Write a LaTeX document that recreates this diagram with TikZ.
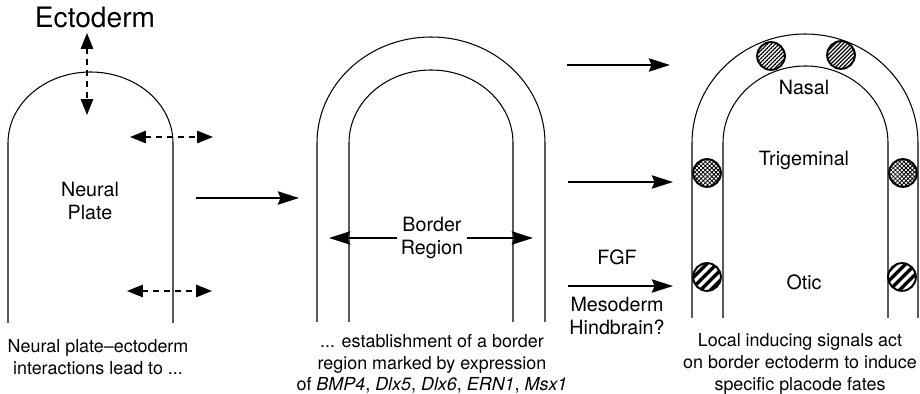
\documentclass[tikz,border=0pt]{standalone}
\usepackage{fontspec}
\setmainfont{TeX Gyre Heros}
\usetikzlibrary{arrows.meta,positioning,patterns.meta}

\tikzset{
  lbl/.style={align=center,font=\fontsize{11.2}{13}\selectfont},
  captxt/.style={align=center,font=\fontsize{10.2}{12.3}\selectfont},
  outline/.style={line width=0.6pt},
  bigarrow/.style={-{Stealth[length=12pt,width=7.5pt,inset=1.5pt]},line width=1.5pt},
  dasharrow/.style={{Triangle[length=9pt,width=7pt]}-{Triangle[length=9pt,width=7pt]},line width=0.9pt,dash pattern=on 3.4pt off 2.8pt},
  placode/.style={circle,draw,line width=1.1pt,minimum size=15.8pt,inner sep=0,preaction={fill=white}}
}

\begin{document}
\begin{tikzpicture}[x=0.02cm,y=0.02cm]
    \useasboundingbox (0,0) rectangle (920,-394);
    % neural plate
    \draw[outline] (8,-323) -- (8,-143) arc[start angle=180,end angle=0,x radius=82.5,y radius=71] -- (173,-323);
    \node[font=\fontsize{16}{18}\selectfont] (ecto) at (95,-17) {Ectoderm};
    \node[lbl] (np) at (90,-201) {Neural\\Plate};
    \coordinate (ecup) at (87,-33);
    \coordinate (ecdn) at (87,-115);
    \coordinate (npal) at (130,-137);
    \coordinate (npar) at (213,-137);
    \coordinate (npbl) at (127,-291);
    \coordinate (npbr) at (212,-291);
    \draw[dasharrow] (ecup) -- (ecdn);
    \draw[dasharrow] (npal) -- (npar);
    \draw[dasharrow] (npbl) -- (npbr);
    \node[captxt] (cap1) at (98,-357) {Neural plate--ectoderm\\interactions lead to ...};
    \coordinate (a1s) at (196,-198);
    \coordinate (a1e) at (299,-198);
    \draw[bigarrow] (a1s) -- (a1e);
    % border region
    \draw[outline] (317,-322) -- (317,-143) arc[start angle=180,end angle=0,x radius=114,y radius=106] -- (545,-322);
    \draw[outline] (349,-322) -- (349,-143) arc[start angle=180,end angle=0,x radius=82,y radius=73] -- (513,-322);
    \node[lbl,inner sep=2pt] (border) at (432,-238) {Border\\Region};
    \coordinate (bdl) at (329,-238);
    \coordinate (bdr) at (533,-238);
    \draw[bigarrow] (border.west) -- (bdl);
    \draw[bigarrow] (border.east) -- (bdr);
    \node[captxt] (cap2) at (432,-364) {... establishment of a border\\region marked by expression\\of \textit{BMP4}, \textit{Dlx5}, \textit{Dlx6}, \textit{ERN1}, \textit{Msx1}};
    % inducing signals
    \coordinate (a2s) at (567,-65);
    \coordinate (a2e) at (670,-65);
    \coordinate (a3s) at (568,-182);
    \coordinate (a3e) at (673,-182);
    \coordinate (a4s) at (568,-286);
    \coordinate (a4e) at (673,-286);
    \draw[bigarrow] (a2s) -- (a2e);
    \draw[bigarrow] (a3s) -- (a3e);
    \draw[bigarrow] (a4s) -- (a4e);
    \node[lbl] (fgf) at (617,-257) {FGF};
    \node[lbl] (meso) at (617,-316) {Mesoderm\\Hindbrain?};
    % placodes
    \draw[outline] (692,-318) -- (692,-143) arc[start angle=180,end angle=0,x radius=113,y radius=109] -- (918,-318);
    \draw[outline] (723,-318) -- (723,-143) arc[start angle=180,end angle=0,x radius=82.5,y radius=77] -- (888,-318);
    \node[placode,pattern={Lines[angle=45,distance=1.6pt,line width=0.7pt]}] (nas1) at (771,-56) {};
    \node[placode,pattern={Lines[angle=45,distance=1.6pt,line width=0.7pt]}] (nas2) at (841,-55) {};
    \node[placode,pattern={Hatch[angle=45,distance=1.7pt,line width=0.45pt]}] (tri1) at (707,-173) {};
    \node[placode,pattern={Hatch[angle=45,distance=1.7pt,line width=0.45pt]}] (tri2) at (903,-173) {};
    \node[placode,pattern={Lines[angle=45,distance=4pt,line width=2pt]}] (oti1) at (707,-277) {};
    \node[placode,pattern={Lines[angle=45,distance=4pt,line width=2pt]}] (oti2) at (902,-277) {};
    \node[lbl] (nasal) at (804,-87) {Nasal};
    \node[lbl] (trig) at (804,-160) {Trigeminal};
    \node[lbl] (otic) at (804,-282) {Otic};
    \node[captxt] (cap3) at (800,-364) {Local inducing signals act\\on border ectoderm to induce\\specific placode fates};
\end{tikzpicture}
\end{document}
